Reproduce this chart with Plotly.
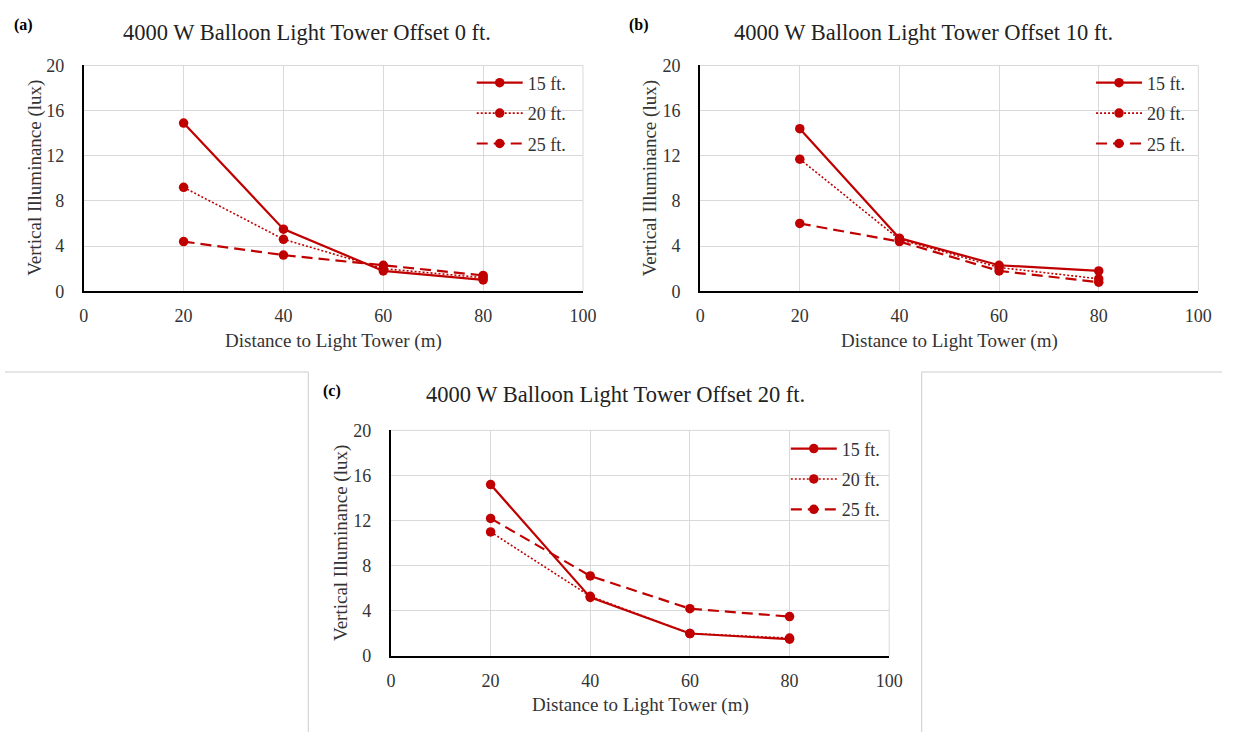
import plotly.graph_objects as go

W, H = 1236, 742

# ---------------- data ----------------
distance_m = [20, 40, 60, 80]
series_names = ["15 ft.", "20 ft.", "25 ft."]

offset0_15ft = [14.9, 5.5, 1.8, 1.0]
offset0_20ft = [9.2, 4.6, 2.0, 1.2]
offset0_25ft = [4.4, 3.2, 2.3, 1.4]

offset10_15ft = [14.4, 4.7, 2.3, 1.8]
offset10_20ft = [11.7, 4.6, 2.1, 1.1]
offset10_25ft = [6.0, 4.4, 1.8, 0.8]

offset20_15ft = [15.2, 5.2, 2.0, 1.5]
offset20_20ft = [11.0, 5.3, 2.0, 1.6]
offset20_25ft = [12.2, 7.1, 4.2, 3.5]

panel_titles = [
    "4000 W Balloon Light Tower Offset 0 ft.",
    "4000 W Balloon Light Tower Offset 10 ft.",
    "4000 W Balloon Light Tower Offset 20 ft.",
]
panel_labels = ["(a)", "(b)", "(c)"]
x_ticks = [0, 20, 40, 60, 80, 100]
y_ticks = [0, 4, 8, 12, 16, 20]
x_title = "Distance to Light Tower (m)"
y_title = "Vertical Illuminance (lux)"

panel_data = [
    [offset0_15ft, offset0_20ft, offset0_25ft],
    [offset10_15ft, offset10_20ft, offset10_25ft],
    [offset20_15ft, offset20_20ft, offset20_25ft],
]

# ---------------- style ----------------
RED = "#C00000"
FONT = "Liberation Serif"
GRID = "#d9d9d9"
line_styles = [
    dict(width=2.2, dash="solid"),
    dict(width=1.6, dash="2px,2px"),
    dict(width=2.2, dash="11px,6px"),
]


def fx(p):
    return p / W


def fy(p):
    return 1 - p / H


# pixel layout of each panel
panels = [
    dict(x0=80, x1=587, y0=57, y1=289, tx=307, ty=23, lx=19, ly=15,
         ytx=31, xty=340, legx=474, legy=56),
    dict(x0=706, x1=1212, y0=57, y1=289, tx=933, ty=23, lx=644, ly=15,
         ytx=655, xty=340, legx=1103, legy=56),
    dict(x0=392, x1=898, y0=432, y1=664, tx=620, ty=395, lx=332, ly=392,
         ytx=341, xty=714, legx=793, legy=432),
]

fig = go.Figure()
annotations = []
shapes = []
layout_axes = {}

for i, (p, data) in enumerate(zip(panels, panel_data)):
    k = "" if i == 0 else str(i + 1)
    leg = "legend" if i == 0 else f"legend{i + 1}"
    for j, (name, vals) in enumerate(zip(series_names, data)):
        fig.add_trace(go.Scatter(
            x=distance_m, y=vals, mode="lines+markers", name=name,
            line=dict(color=RED, width=line_styles[j]["width"], dash=line_styles[j]["dash"]),
            marker=dict(size=9.5, color=RED, symbol="circle"),
            xaxis="x" + k, yaxis="y" + k, legend=leg, legendgroup=f"p{i}s{j}",
            showlegend=True,
        ))
    layout_axes["xaxis" + k] = dict(
        domain=[fx(p["x0"]), fx(p["x1"])], anchor="y" + k, range=[0, 100],
        tickvals=x_ticks, showgrid=True, gridcolor=GRID, gridwidth=1,
        showline=True, linecolor="black", linewidth=2, zeroline=False,
        ticks="", ticklabelstandoff=7,
        tickfont=dict(family=FONT, size=18, color="#333333"),
        fixedrange=True,
    )
    layout_axes["yaxis" + k] = dict(
        domain=[fy(p["y1"]), fy(p["y0"])], anchor="x" + k, range=[0, 20],
        tickvals=y_ticks, showgrid=True, gridcolor=GRID, gridwidth=1,
        showline=True, linecolor="black", linewidth=2, zeroline=False,
        ticks="", ticklabelstandoff=14,
        tickfont=dict(family=FONT, size=18, color="#333333"),
        fixedrange=True,
    )
    layout_axes[leg] = dict(
        x=fx(p["legx"]), y=fy(p["legy"]), xanchor="left", yanchor="top",
        bgcolor="rgba(0,0,0,0)", borderwidth=0, itemwidth=46,
        tracegroupgap=4, font=dict(family=FONT, size=18, color="#333333"),
        itemclick=False, itemdoubleclick=False,
    )
    # top and right border grid lines
    shapes.append(dict(type="line", xref=f"x{k} domain", yref=f"y{k} domain",
                       x0=0, x1=1, y0=1, y1=1, line=dict(color=GRID, width=1), layer="below"))
    shapes.append(dict(type="line", xref=f"x{k} domain", yref=f"y{k} domain",
                       x0=1, x1=1, y0=0, y1=1, line=dict(color=GRID, width=1), layer="below"))
    # texts
    annotations.append(dict(text=panel_titles[i], x=fx(p["tx"]), y=fy(p["ty"]),
                            xref="paper", yref="paper", showarrow=False,
                            xanchor="center", yanchor="middle",
                            font=dict(family=FONT, size=22.5, color="#222222")))
    annotations.append(dict(text="<b>" + panel_labels[i] + "</b>", x=fx(p["lx"]), y=fy(p["ly"]),
                            xref="paper", yref="paper", showarrow=False,
                            xanchor="center", yanchor="middle",
                            font=dict(family=FONT, size=16, color="#000000")))
    annotations.append(dict(text=x_title, x=fx((p["x0"] + p["x1"]) / 2), y=fy(p["xty"]),
                            xref="paper", yref="paper", showarrow=False,
                            xanchor="center", yanchor="middle",
                            font=dict(family=FONT, size=19, color="#333333")))
    annotations.append(dict(text=y_title, x=fx(p["ytx"]), y=fy((p["y0"] + p["y1"]) / 2),
                            xref="paper", yref="paper", showarrow=False, textangle=-90,
                            xanchor="center", yanchor="middle",
                            font=dict(family=FONT, size=19, color="#333333")))

# separator lines around panel (c)
sep = dict(color="#cccccc", width=1)
shapes += [
    dict(type="line", xref="paper", yref="paper", x0=0, x1=fx(308), y0=fy(372), y1=fy(372), line=sep),
    dict(type="line", xref="paper", yref="paper", x0=fx(308), x1=fx(308), y0=fy(372), y1=0, line=sep),
    dict(type="line", xref="paper", yref="paper", x0=fx(931), x1=1, y0=fy(372), y1=fy(372), line=sep),
    dict(type="line", xref="paper", yref="paper", x0=fx(931), x1=fx(931), y0=fy(372), y1=0, line=sep),
]

fig.update_layout(
    width=W, height=H, margin=dict(l=0, r=0, t=0, b=0),
    paper_bgcolor="white", plot_bgcolor="white",
    annotations=annotations, shapes=shapes,
    font=dict(family=FONT),
    **layout_axes,
)

fig.write_html(
    "out.html",
    post_script="document.body.style.margin='0';document.body.style.overflow='hidden';",
)
